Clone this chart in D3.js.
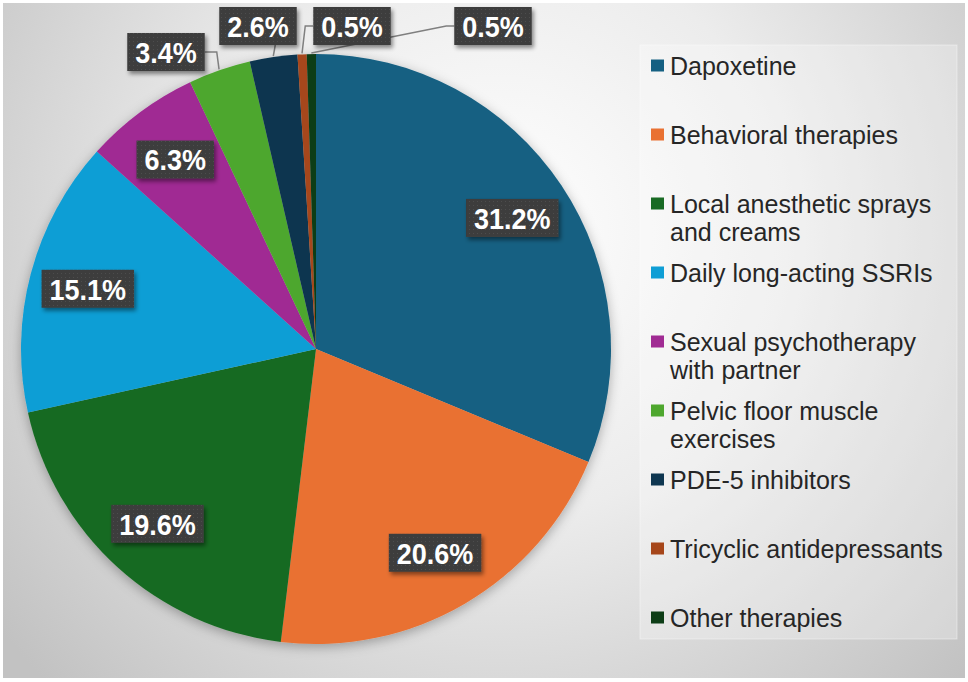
<!DOCTYPE html>
<html>
<head>
<meta charset="utf-8">
<script src="https://cdn.jsdelivr.net/npm/d3@7"></script>
<style>
  body { margin: 0; background: #fff; }
  svg { display: block; font-family: "Liberation Sans", Arial, sans-serif; }
</style>
</head>
<body>
<div id="chart"></div>
<script>
// data
const categories = [
  "Dapoxetine",
  "Behavioral therapies",
  "Local anesthetic sprays and creams",
  "Daily long-acting SSRIs",
  "Sexual psychotherapy with partner",
  "Pelvic floor muscle exercises",
  "PDE-5 inhibitors",
  "Tricyclic antidepressants",
  "Other therapies"
];
const shares = [31.2, 20.6, 19.6, 15.1, 6.3, 3.4, 2.6, 0.5, 0.5];
const colors = ["#156082", "#E97132", "#196B24", "#0F9ED5", "#A02B93", "#4EA72E", "#0E3650", "#A6461A", "#0D3D16"];

// labels that sit outside the pie, with their box centre and where the leader joins
const outsideLabels = {
  5: { x: 166, y: 52, side: "right" },
  6: { x: 258, y: 26, side: "bottom" },
  7: { x: 352, y: 26, side: "left" },
  8: { x: 493, y: 26, side: "left" }
};

const W = 968, H = 682;
const cx = 316, cy = 349, radius = 295;

const svg = d3.select("#chart").append("svg")
  .attr("width", W).attr("height", H);

const defs = svg.append("defs");

//Background gradient
const grad = defs.append("radialGradient")
  .attr("id", "bg")
  .attr("gradientUnits", "userSpaceOnUse")
  .attr("cx", 500).attr("cy", 230).attr("r", 640);
grad.append("stop").attr("offset", 0).attr("stop-color", "#ffffff");
grad.append("stop").attr("offset", 0.45).attr("stop-color", "#ececec");
grad.append("stop").attr("offset", 1).attr("stop-color", "#c2c2c2");

defs.append("filter").attr("id", "pieShadow")
  .attr("x", "-10%").attr("y", "-10%").attr("width", "120%").attr("height", "120%")
  .append("feDropShadow")
  .attr("dx", 0).attr("dy", 3).attr("stdDeviation", 6)
  .attr("flood-color", "#000").attr("flood-opacity", 0.3);

defs.append("filter").attr("id", "boxShadow")
  .attr("x", "-20%").attr("y", "-30%").attr("width", "150%").attr("height", "170%")
  .append("feDropShadow")
  .attr("dx", 2).attr("dy", 3).attr("stdDeviation", 2)
  .attr("flood-color", "#000").attr("flood-opacity", 0.45);

//Dotted texture on the label boxes
const pat = defs.append("pattern")
  .attr("id", "dots").attr("patternUnits", "userSpaceOnUse")
  .attr("width", 4).attr("height", 4);
pat.append("rect").attr("width", 4).attr("height", 4).attr("fill", "#3d3d3d");
pat.append("rect").attr("x", 1).attr("y", 1).attr("width", 1).attr("height", 1).attr("fill", "#4d4d4d");

svg.append("rect")
  .attr("x", 3).attr("y", 3)
  .attr("width", 962).attr("height", 675)
  .attr("fill", "url(#bg)");

//Pie
const pie = d3.pie().sort(null).value(d => d)(shares);
const arc = d3.arc().innerRadius(0).outerRadius(radius);
const labelArc = d3.arc().innerRadius(radius * 0.8).outerRadius(radius * 0.8);
const edgeArc = d3.arc().innerRadius(radius + 1).outerRadius(radius + 1);

const g = svg.append("g").attr("transform", `translate(${cx},${cy})`);

g.append("g").attr("filter", "url(#pieShadow)")
  .selectAll("path")
  .data(pie)
  .enter()
  .append("path")
  .attr("d", arc)
  .attr("fill", (d, i) => colors[i]);

//Data labels (text is a little narrow in the original, so squeeze it)
const labelFont = 30;
const squeeze = 0.9;
const boxH = 38;
const labels = svg.append("g");

pie.forEach((d, i) => {
  const text = shares[i].toFixed(1) + "%";
  let bx, by;
  if (outsideLabels[i]) {
    bx = outsideLabels[i].x;
    by = outsideLabels[i].y;
  } else {
    const c = labelArc.centroid(d);
    bx = cx + c[0];
    by = cy + c[1];
  }

  const lg = labels.append("g");
  const t = lg.append("text")
    .attr("transform", `translate(${bx},${by + labelFont * 0.36}) scale(${squeeze},1)`)
    .attr("text-anchor", "middle")
    .attr("font-size", labelFont)
    .attr("font-weight", "bold")
    .attr("fill", "#fff")
    .text(text);
  const tw = t.node().getComputedTextLength() * squeeze;
  const bw = tw + 16;
  const x0 = bx - bw / 2, x1 = bx + bw / 2;
  const y0 = by - boxH / 2, y1 = by + boxH / 2;

  lg.insert("rect", "text")
    .attr("x", x0).attr("y", y0)
    .attr("width", bw).attr("height", boxH)
    .attr("fill", "url(#dots)")
    .attr("filter", "url(#boxShadow)");

  if (outsideLabels[i]) {
    const e = edgeArc.centroid(d);
    const ex = cx + e[0], ey = cy + e[1];
    let pts;
    const side = outsideLabels[i].side;
    if (side === "right") pts = [[x1, by], [x1 + 12, by], [ex, ey]];
    else if (side === "left") pts = [[x0, by], [x0 - 8, by], [ex, ey]];
    else pts = [[ex + 2, y1], [ex, ey]];
    labels.insert("path", ":first-child")
      .attr("d", d3.line()(pts))
      .attr("fill", "none")
      .attr("stroke", "#7f7f7f")
      .attr("stroke-width", 1.5);
  }
});

//Legend
const legX = 640, legY = 45, legW = 317, legH = 594;
svg.append("rect")
  .attr("x", legX).attr("y", legY)
  .attr("width", legW).attr("height", legH)
  .attr("fill", "#fff").attr("fill-opacity", 0.28)
  .attr("stroke", "#fff").attr("stroke-opacity", 0.4);

const legendFont = 25;
const step = 69;
const legend = svg.append("g");

categories.forEach((name, i) => {
  const yc = 65.5 + i * step;
  legend.append("rect")
    .attr("x", 651).attr("y", yc - 6)
    .attr("width", 13).attr("height", 12)
    .attr("fill", colors[i]);

  const t = legend.append("text")
    .attr("x", 670)
    .attr("y", yc + legendFont * 0.36)
    .attr("font-size", legendFont)
    .attr("fill", "#262626");

  //wrap long names onto a second line
  const words = name.split(" ");
  let line = [];
  let tspan = t.append("tspan").attr("x", 670);
  words.forEach(w => {
    line.push(w);
    tspan.text(line.join(" "));
    if (tspan.node().getComputedTextLength() > 285 && line.length > 1) {
      line.pop();
      tspan.text(line.join(" "));
      line = [w];
      tspan = t.append("tspan").attr("x", 670).attr("dy", 28).text(w);
    }
  });
});
</script>
</body>
</html>
